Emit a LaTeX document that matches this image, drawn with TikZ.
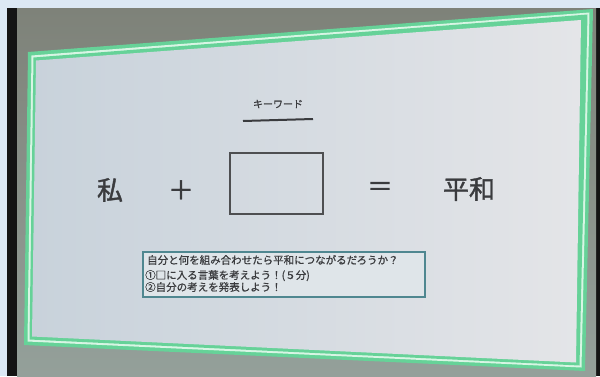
\documentclass[tikz,border=0pt]{standalone}
\usepackage{fontspec}
\newfontfamily\jp[FakeBold=0.8]{Noto Sans CJK JP}
\newfontfamily\jpb[FakeBold=1.4]{Noto Sans CJK JP}
\definecolor{bgblue}{HTML}{DCE8F4}
\definecolor{frameblk}{HTML}{141414}
\definecolor{scrtop}{HTML}{7E8279}
\definecolor{scrbot}{HTML}{94A09A}
\definecolor{grn}{HTML}{66D298}
\definecolor{grnlight}{HTML}{D8F5E4}
\definecolor{slideL}{HTML}{C8D2DB}
\definecolor{slideR}{HTML}{E4E5E8}
\definecolor{ink}{HTML}{3A3B3E}
\definecolor{boxedge}{HTML}{4F8790}
\definecolor{boxfill}{HTML}{DFE5E9}
\tikzset{
  big/.style={font=\jpb\fontsize{26}{30}\selectfont, text=ink, inner sep=0pt},
  kwtext/.style={font=\jp\fontsize{10}{12}\selectfont, text=ink, inner sep=0pt},
  small/.style={font=\jp\fontsize{10.5}{13}\selectfont, text=ink, inner sep=0pt, anchor=base west},
  keybox/.style={draw=ink!90, line width=1.3pt, inner sep=0pt},
  taskbox/.style={draw=boxedge, fill=boxfill, line width=1.2pt, inner sep=0pt},
  uline/.style={draw=ink, line width=2pt}
}
\begin{document}
\begin{tikzpicture}[x=1pt,y=-1pt]
\useasboundingbox (0,0) rectangle (600,376);
% photo surroundings
\fill[bgblue] (0,0) rectangle (600,376);
\fill[frameblk] (7,8) rectangle (600,376);
\shade[top color=scrtop,bottom color=scrbot] (17,8) rectangle (596,376);
% slide frame (perspective)
\fill[grn] (28,52) -- (593,9) -- (585,371) -- (24,345) -- cycle;
\fill[grnlight] (31.5,55.5) -- (589.5,12.5) -- (581.5,367.5) -- (27.5,341.5) -- cycle;
\fill[grn] (33.5,57.5) -- (587.5,14.5) -- (579.5,365.5) -- (29.5,339.5) -- cycle;
\shade[left color=slideL,right color=slideR] (36,60.5) -- (581,20) -- (576,362.5) -- (32,336.5) -- cycle;
% keyword title
\node[kwtext] (kw) at (278,104) {キーワード};
\coordinate (ul1) at (243,121);
\coordinate (ul2) at (313,119);
\draw[uline] (ul1) -- (ul2);
% equation
\node[big] (watashi) at (110,190) {私};
\node[big] (plus) at (181,190) {＋};
\node[keybox, minimum width=93pt, minimum height=61pt] (kbox) at (276.5,183.5) {};
\node[big] (eq) at (380,189) {＝};
\node[big] (heiwa) at (469,189) {平和};
% task box
\node[taskbox, minimum width=282pt, minimum height=45pt] (task) at (284,274.5) {};
\node[small] (l1) at (147,264) {自分と何を組み合わせたら平和につながるだろうか？};
\node[small] (l2) at (145,279) {①□に入る言葉を考えよう！(５分)};
\node[small] (l3) at (145,291) {②自分の考えを発表しよう！};
\end{tikzpicture}
\end{document}
